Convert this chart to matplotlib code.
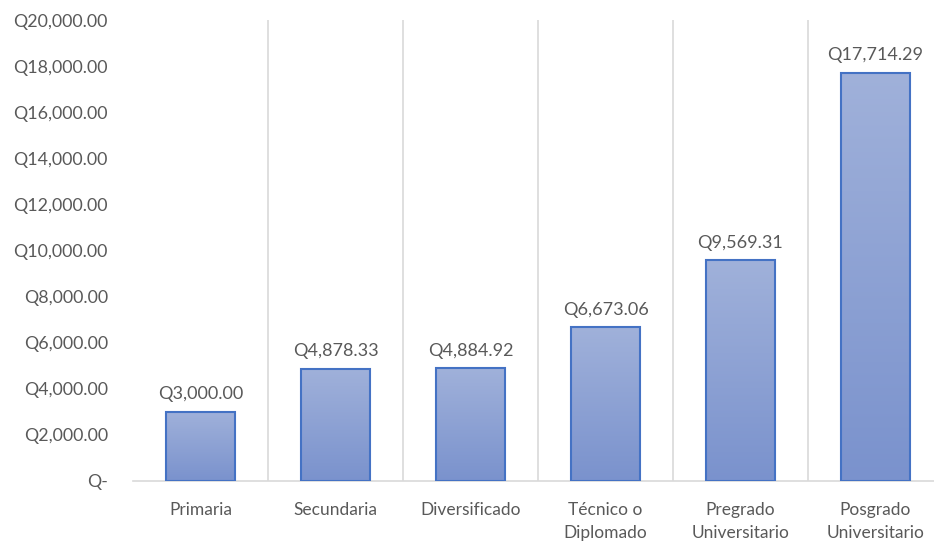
import numpy as np
import matplotlib.pyplot as plt
from matplotlib.ticker import FuncFormatter, MultipleLocator

categorias = ["Primaria", "Secundaria", "Diversificado", "Técnico o\nDiplomado",
              "Pregrado\nUniversitario", "Posgrado\nUniversitario"]
salario = [3000.00, 4878.33, 4884.92, 6673.06, 9569.31, 17714.29]

plt.rcParams['font.family'] = ['Lato', 'DejaVu Sans']
gris = "#595959"

fig = plt.figure(figsize=(9.34, 5.44), dpi=100)
ax = fig.add_axes([133 / 934, 63 / 544, 810 / 934, 461 / 544])

x = np.arange(len(categorias))
barras = ax.bar(x, salario, width=0.51, color="none", edgecolor="#4472c4", linewidth=1.5, zorder=3)

# degradado vertical dentro de cada barra
grad = np.linspace(0, 1, 256).reshape(-1, 1)
cmap = plt.matplotlib.colors.LinearSegmentedColormap.from_list("g", ["#7a92cd", "#a0b1da"])
for b in barras:
    x0, w, h = b.get_x(), b.get_width(), b.get_height()
    im = ax.imshow(grad, cmap=cmap, aspect="auto", origin="lower",
                   extent=[x0, x0 + w, 0, h], zorder=2)
    im.set_clip_path(b)

for xi, v in zip(x, salario):
    ax.text(xi, v + 420, f"Q{v:,.2f}", ha="center", va="bottom", fontsize=13, color=gris)

ax.set_xlim(-0.5, len(categorias) - 0.5)
ax.set_ylim(0, 20000)
ax.yaxis.set_major_locator(MultipleLocator(2000))
ax.yaxis.set_major_formatter(FuncFormatter(lambda v, p: "Q-" if v == 0 else f"Q{v:,.2f}"))

ax.set_xticks(x)
ax.set_xticklabels(categorias, fontsize=12.5, color=gris, linespacing=1.55)
ax.tick_params(axis="y", labelsize=12.8, labelcolor=gris, length=0, pad=18)
ax.tick_params(axis="x", length=0, pad=15)

# lineas verticales entre categorias
for xb in np.arange(0.5, len(categorias) - 0.5, 1):
    ax.axvline(xb, color="#d9d9d9", linewidth=1.2, zorder=1)

for s in ["top", "right", "left"]:
    ax.spines[s].set_visible(False)
ax.spines["bottom"].set_color("#d9d9d9")
ax.spines["bottom"].set_linewidth(1.2)

fig.savefig("out.png", dpi=100)
